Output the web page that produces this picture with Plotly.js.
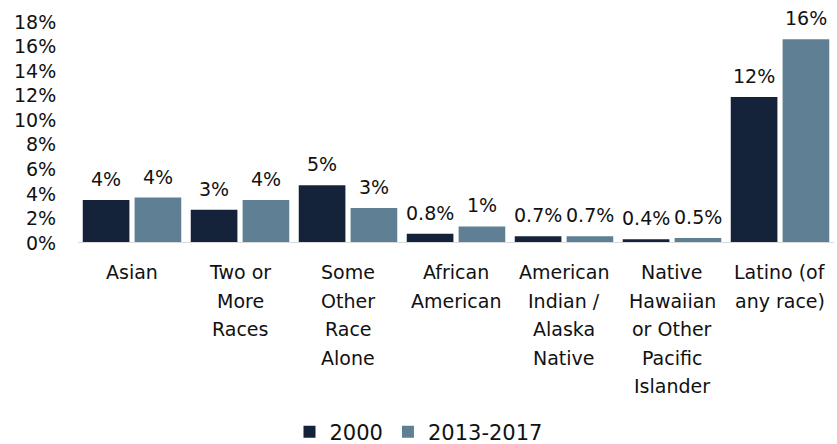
<!DOCTYPE html>
<html>
<head>
<meta charset="utf-8">
<script src="https://cdn.plot.ly/plotly-3.0.1.min.js"></script>
<style>html,body{margin:0;padding:0;background:#fff}#chart{width:837px;height:444px}</style>
</head>
<body>
<div id="chart"></div>
<script>
const categories = ["Asian", "Two or More Races", "Some Other Race Alone", "African American", "American Indian / Alaska Native", "Native Hawaiian or Other Pacific Islander", "Latino (of any race)"];
const categoryLines = [
  ["Asian"],
  ["Two or", "More", "Races"],
  ["Some", "Other", "Race", "Alone"],
  ["African", "American"],
  ["American", "Indian /", "Alaska", "Native"],
  ["Native", "Hawaiian", "or Other", "Pacific", "Islander"],
  ["Latino (of", "any race)"]
];
const seriesNames = ["2000", "2013-2017"];
const values2000 = [3.5, 2.7, 4.7, 0.75, 0.55, 0.3, 11.9];
const values2013 = [3.7, 3.5, 2.85, 1.35, 0.55, 0.4, 16.6];
const labels2000 = ["4%", "3%", "5%", "0.8%", "0.7%", "0.4%", "12%"];
const labels2013 = ["4%", "4%", "3%", "1%", "0.7%", "0.5%", "16%"];
const yTickVals = [0, 2, 4, 6, 8, 10, 12, 14, 16, 18];

const fontFam = "DejaVu Sans, sans-serif";
const txtColor = "#111111";
const colors = ["#15233a", "#5f8094"];

const traces = [
  {type: "bar", name: seriesNames[0], x: categories, y: values2000, marker: {color: colors[0]}, hoverinfo: "none"},
  {type: "bar", name: seriesNames[1], x: categories, y: values2013, marker: {color: colors[1]}, hoverinfo: "none"}
];

const annotations = [];
const shift = 26;
categories.forEach((c, i) => {
  annotations.push({x: c, y: values2000[i], xref: "x", yref: "y", text: labels2000[i], showarrow: false,
    xshift: -shift, yanchor: "bottom", yshift: 8, font: {family: fontFam, size: 19, color: txtColor}});
  annotations.push({x: c, y: values2013[i], xref: "x", yref: "y", text: labels2013[i], showarrow: false,
    xshift: shift, yanchor: "bottom", yshift: 8, font: {family: fontFam, size: 19, color: txtColor}});
  categoryLines[i].forEach((line, j) => {
    annotations.push({x: c, y: 0, xref: "x", yref: "paper", text: line, showarrow: false,
      yanchor: "middle", yshift: -29 - j * 28.6, font: {family: fontFam, size: 19, color: txtColor}});
  });
});

const layout = {
  width: 837, height: 444,
  margin: {l: 78, r: 3, t: 22, b: 201},
  paper_bgcolor: "#ffffff", plot_bgcolor: "#ffffff",
  barmode: "group", bargap: 0.04, bargroupgap: 0.1,
  font: {family: fontFam, size: 19, color: txtColor},
  showlegend: true,
  legend: {orientation: "h", xref: "container", yref: "container", x: 0.5, xanchor: "center", y: 0.027, yanchor: "middle",
    font: {family: fontFam, size: 21, color: txtColor}, itemwidth: 30, tracegroupgap: 0},
  xaxis: {type: "category", showticklabels: false, ticks: "", showgrid: false, zeroline: false,
    showline: false},
  yaxis: {range: [0, 18], tickvals: yTickVals, ticktext: yTickVals.map(v => v + "%"), showgrid: false, zeroline: false,
    showline: false, ticks: "outside", ticklen: 17, tickcolor: "rgba(0,0,0,0)",
    tickfont: {family: fontFam, size: 19, color: txtColor}},
  shapes: [{type: "line", xref: "paper", yref: "y", x0: 0, x1: 1, y0: 0, y1: 0, line: {color: "#d9d9d9", width: 2}}],
  annotations: annotations
};

Plotly.newPlot("chart", traces, layout, {displayModeBar: false, staticPlot: true});
</script>
</body>
</html>
